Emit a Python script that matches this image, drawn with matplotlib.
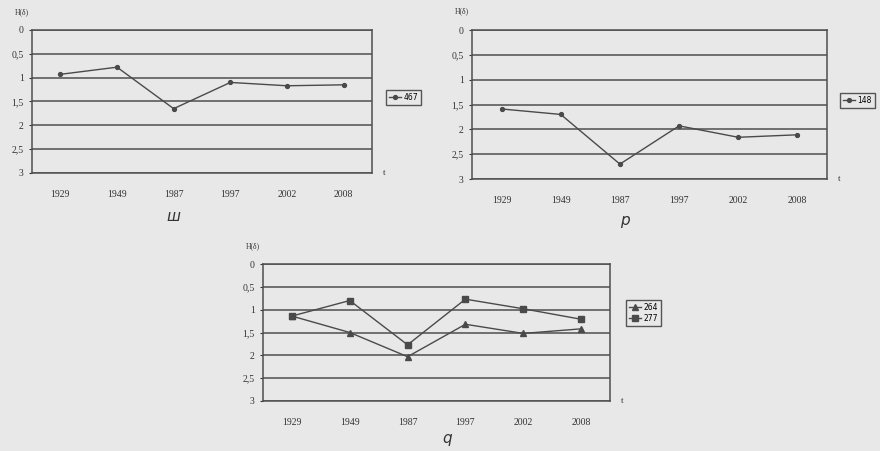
import matplotlib.pyplot as plt
import numpy as np

W, H = 880, 451
bg = '#e8e8e8'
ink = '#4a4a4a'

years = ['1929', '1949', '1987', '1997', '2002', '2008']
s467 = [0.93, 0.78, 1.65, 1.10, 1.17, 1.15]
s148 = [1.59, 1.70, 2.70, 1.93, 2.16, 2.11]
s264 = [1.14, 1.50, 2.03, 1.32, 1.52, 1.42]
s277 = [1.14, 0.80, 1.77, 0.77, 0.98, 1.21]
yticks = [0, 0.5, 1, 1.5, 2, 2.5, 3]
ylabels = ['0', '0,5', '1', '1,5', '2', '2,5', '3']

plt.rcParams['font.family'] = ['Liberation Serif', 'DejaVu Serif']
fig = plt.figure(figsize=(W / 100, H / 100), dpi=100, facecolor=bg)


def px_axes(left, top, right, bottom):
    return fig.add_axes([left / W, 1 - bottom / H, (right - left) / W, (bottom - top) / H])


def setup(ax, series, markers, names, leg_xy, letter_xy, letter):
    x = np.arange(len(years))
    for vals, m, name in zip(series, markers, names):
        ax.plot(x, vals, color=ink, lw=1.0, marker=m,
                ms=4 if m != 'o' else 2.8, label=name)
    ax.set_facecolor(bg)
    ax.set_xlim(-0.5, len(years) - 0.5)
    ax.set_ylim(3, 0)
    ax.set_yticks(yticks)
    ax.set_yticklabels(ylabels)
    ax.set_xticks(x)
    ax.set_xticklabels(years)
    ax.tick_params(axis='x', length=0, pad=12, labelsize=7, colors='#333333')
    ax.tick_params(axis='y', length=2, pad=4, labelsize=7, colors='#333333')
    ax.grid(axis='y', color='#4f4f4f', lw=1.1)
    for sp in ax.spines.values():
        sp.set_color('#4f4f4f')
        sp.set_linewidth(1.1)
    ax.text(-0.01, 1.1, 'H(δ)', transform=ax.transAxes, fontsize=5.5,
            color='#333333', ha='right', va='bottom')
    ax.text(1.035, 0.0, 't', transform=ax.transAxes, fontsize=6.5,
            color='#333333', ha='center', va='center')
    fig.legend(handles=ax.get_lines(), labels=names, loc='upper left',
               bbox_to_anchor=(leg_xy[0] / W, 1 - leg_xy[1] / H),
               frameon=True, fancybox=False, edgecolor='#555555',
               facecolor=bg, framealpha=1, handlelength=1.6, handletextpad=0.3,
               borderpad=0.4, labelspacing=0.3, prop={'family': 'DejaVu Sans', 'size': 5.5})
    fig.text(letter_xy[0] / W, 1 - letter_xy[1] / H, letter, fontsize=11,
             style='italic', color='#333333', ha='center', va='center',
             family='DejaVu Sans')


ax1 = px_axes(32, 30, 372, 173)
setup(ax1, [s467], ['o'], ['467'], (382, 86), (173, 216), 'ш')

ax2 = px_axes(472, 30, 827, 179)
setup(ax2, [s148], ['o'], ['148'], (836, 89), (625, 221), 'р')

ax3 = px_axes(263, 264, 610, 401)
setup(ax3, [s264, s277], ['^', 's'], ['264', '277'], (622, 296), (447, 439), 'q')

fig.savefig('out.png', dpi=100, facecolor=bg)
